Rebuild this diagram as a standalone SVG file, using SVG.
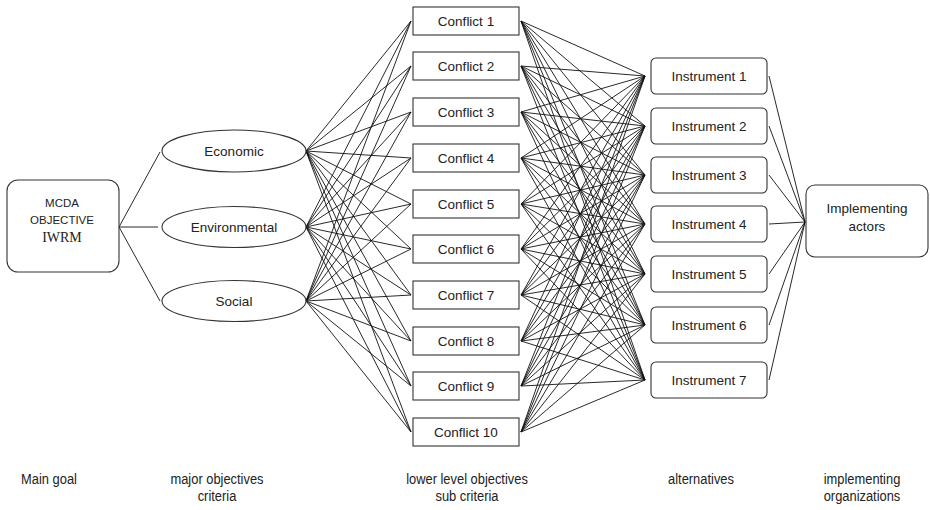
<svg xmlns="http://www.w3.org/2000/svg" width="930" height="510" viewBox="0 0 930 510">
<style>
.bg{fill:#fff}
.node{fill:#fff;stroke:#333;stroke-width:1.1}
.t{font-family:"Liberation Sans",Arial,sans-serif;font-size:13.5px;fill:#222;text-anchor:middle}
.ts{font-family:"Liberation Sans",Arial,sans-serif;font-size:11.5px;fill:#222;text-anchor:middle}
.tr{font-family:"Liberation Serif","Times New Roman",serif;font-size:14px;fill:#222;text-anchor:middle}
.lab{font-family:"Liberation Sans",Arial,sans-serif;font-size:15px;fill:#222;text-anchor:middle}
#connectors line{stroke:#111;stroke-width:0.9}
</style>
<rect class="bg" x="0" y="0" width="930" height="510"/>
<g id="connectors">
<line x1="119" y1="227" x2="160" y2="152"/>
<line x1="119" y1="227" x2="158" y2="227"/>
<line x1="119" y1="227" x2="160" y2="301"/>
<line x1="306" y1="151" x2="411" y2="21"/><line x1="306" y1="151" x2="411" y2="66"/><line x1="306" y1="151" x2="411" y2="112"/><line x1="306" y1="151" x2="411" y2="158"/><line x1="306" y1="151" x2="411" y2="204"/><line x1="306" y1="151" x2="411" y2="249"/><line x1="306" y1="151" x2="411" y2="295"/><line x1="306" y1="151" x2="411" y2="341"/><line x1="306" y1="151" x2="411" y2="386"/><line x1="306" y1="151" x2="411" y2="432"/>
<line x1="306" y1="227" x2="411" y2="21"/><line x1="306" y1="227" x2="411" y2="66"/><line x1="306" y1="227" x2="411" y2="112"/><line x1="306" y1="227" x2="411" y2="158"/><line x1="306" y1="227" x2="411" y2="204"/><line x1="306" y1="227" x2="411" y2="249"/><line x1="306" y1="227" x2="411" y2="295"/><line x1="306" y1="227" x2="411" y2="341"/><line x1="306" y1="227" x2="411" y2="386"/><line x1="306" y1="227" x2="411" y2="432"/>
<line x1="306" y1="301" x2="411" y2="21"/><line x1="306" y1="301" x2="411" y2="66"/><line x1="306" y1="301" x2="411" y2="112"/><line x1="306" y1="301" x2="411" y2="158"/><line x1="306" y1="301" x2="411" y2="204"/><line x1="306" y1="301" x2="411" y2="249"/><line x1="306" y1="301" x2="411" y2="295"/><line x1="306" y1="301" x2="411" y2="341"/><line x1="306" y1="301" x2="411" y2="386"/><line x1="306" y1="301" x2="411" y2="432"/>
<line x1="521" y1="21" x2="645" y2="76"/><line x1="521" y1="21" x2="645" y2="126"/><line x1="521" y1="21" x2="645" y2="175"/><line x1="521" y1="21" x2="645" y2="224"/><line x1="521" y1="21" x2="645" y2="274"/><line x1="521" y1="21" x2="645" y2="325"/><line x1="521" y1="21" x2="645" y2="380"/>
<line x1="521" y1="66" x2="645" y2="76"/><line x1="521" y1="66" x2="645" y2="126"/><line x1="521" y1="66" x2="645" y2="175"/><line x1="521" y1="66" x2="645" y2="224"/><line x1="521" y1="66" x2="645" y2="274"/><line x1="521" y1="66" x2="645" y2="325"/><line x1="521" y1="66" x2="645" y2="380"/>
<line x1="521" y1="112" x2="645" y2="76"/><line x1="521" y1="112" x2="645" y2="126"/><line x1="521" y1="112" x2="645" y2="175"/><line x1="521" y1="112" x2="645" y2="224"/><line x1="521" y1="112" x2="645" y2="274"/><line x1="521" y1="112" x2="645" y2="325"/><line x1="521" y1="112" x2="645" y2="380"/>
<line x1="521" y1="158" x2="645" y2="76"/><line x1="521" y1="158" x2="645" y2="126"/><line x1="521" y1="158" x2="645" y2="175"/><line x1="521" y1="158" x2="645" y2="224"/><line x1="521" y1="158" x2="645" y2="274"/><line x1="521" y1="158" x2="645" y2="325"/><line x1="521" y1="158" x2="645" y2="380"/>
<line x1="521" y1="204" x2="645" y2="76"/><line x1="521" y1="204" x2="645" y2="126"/><line x1="521" y1="204" x2="645" y2="175"/><line x1="521" y1="204" x2="645" y2="224"/><line x1="521" y1="204" x2="645" y2="274"/><line x1="521" y1="204" x2="645" y2="325"/><line x1="521" y1="204" x2="645" y2="380"/>
<line x1="521" y1="249" x2="645" y2="76"/><line x1="521" y1="249" x2="645" y2="126"/><line x1="521" y1="249" x2="645" y2="175"/><line x1="521" y1="249" x2="645" y2="224"/><line x1="521" y1="249" x2="645" y2="274"/><line x1="521" y1="249" x2="645" y2="325"/><line x1="521" y1="249" x2="645" y2="380"/>
<line x1="521" y1="295" x2="645" y2="76"/><line x1="521" y1="295" x2="645" y2="126"/><line x1="521" y1="295" x2="645" y2="175"/><line x1="521" y1="295" x2="645" y2="224"/><line x1="521" y1="295" x2="645" y2="274"/><line x1="521" y1="295" x2="645" y2="325"/><line x1="521" y1="295" x2="645" y2="380"/>
<line x1="521" y1="341" x2="645" y2="76"/><line x1="521" y1="341" x2="645" y2="126"/><line x1="521" y1="341" x2="645" y2="175"/><line x1="521" y1="341" x2="645" y2="224"/><line x1="521" y1="341" x2="645" y2="274"/><line x1="521" y1="341" x2="645" y2="325"/><line x1="521" y1="341" x2="645" y2="380"/>
<line x1="521" y1="386" x2="645" y2="76"/><line x1="521" y1="386" x2="645" y2="126"/><line x1="521" y1="386" x2="645" y2="175"/><line x1="521" y1="386" x2="645" y2="224"/><line x1="521" y1="386" x2="645" y2="274"/><line x1="521" y1="386" x2="645" y2="325"/><line x1="521" y1="386" x2="645" y2="380"/>
<line x1="521" y1="432" x2="645" y2="76"/><line x1="521" y1="432" x2="645" y2="126"/><line x1="521" y1="432" x2="645" y2="175"/><line x1="521" y1="432" x2="645" y2="224"/><line x1="521" y1="432" x2="645" y2="274"/><line x1="521" y1="432" x2="645" y2="325"/><line x1="521" y1="432" x2="645" y2="380"/>
<line x1="769" y1="76" x2="805" y2="222"/><line x1="769" y1="126" x2="805" y2="222"/><line x1="769" y1="175" x2="805" y2="222"/><line x1="769" y1="224" x2="805" y2="222"/><line x1="769" y1="274" x2="805" y2="222"/><line x1="769" y1="325" x2="805" y2="222"/><line x1="769" y1="380" x2="805" y2="222"/>
</g>
<g id="main-goal">
<rect class="node" x="7" y="180" width="112" height="92" rx="11"/>
<text class="ts" x="62" y="207">MCDA</text>
<text class="ts" x="62" y="224">OBJECTIVE</text>
<text class="tr" x="62" y="242">IWRM</text>
</g>
<g id="economic"><ellipse class="node" cx="234" cy="151" rx="72" ry="21"/><text class="t" x="234" y="156">Economic</text></g>
<g id="environmental"><ellipse class="node" cx="234" cy="227" rx="72" ry="20.5"/><text class="t" x="234" y="232">Environmental</text></g>
<g id="social"><ellipse class="node" cx="234" cy="301" rx="72" ry="20.5"/><text class="t" x="234" y="306">Social</text></g>
<g id="conflict-1"><rect class="node" x="413" y="7" width="106" height="28"/><text class="t" x="466" y="26">Conflict 1</text></g>
<g id="conflict-2"><rect class="node" x="413" y="52" width="106" height="28"/><text class="t" x="466" y="71">Conflict 2</text></g>
<g id="conflict-3"><rect class="node" x="413" y="98" width="106" height="28"/><text class="t" x="466" y="117">Conflict 3</text></g>
<g id="conflict-4"><rect class="node" x="413" y="144" width="106" height="28"/><text class="t" x="466" y="163">Conflict 4</text></g>
<g id="conflict-5"><rect class="node" x="413" y="190" width="106" height="28"/><text class="t" x="466" y="209">Conflict 5</text></g>
<g id="conflict-6"><rect class="node" x="413" y="235" width="106" height="28"/><text class="t" x="466" y="254">Conflict 6</text></g>
<g id="conflict-7"><rect class="node" x="413" y="281" width="106" height="28"/><text class="t" x="466" y="300">Conflict 7</text></g>
<g id="conflict-8"><rect class="node" x="413" y="327" width="106" height="28"/><text class="t" x="466" y="346">Conflict 8</text></g>
<g id="conflict-9"><rect class="node" x="413" y="372" width="106" height="28"/><text class="t" x="466" y="391">Conflict 9</text></g>
<g id="conflict-10"><rect class="node" x="413" y="418" width="106" height="28"/><text class="t" x="466" y="437">Conflict 10</text></g>
<g id="instrument-1"><rect class="node" x="651" y="58" width="116" height="36" rx="5"/><text class="t" x="709" y="81">Instrument 1</text></g>
<g id="instrument-2"><rect class="node" x="651" y="108" width="116" height="36" rx="5"/><text class="t" x="709" y="131">Instrument 2</text></g>
<g id="instrument-3"><rect class="node" x="651" y="157" width="116" height="36" rx="5"/><text class="t" x="709" y="180">Instrument 3</text></g>
<g id="instrument-4"><rect class="node" x="651" y="206" width="116" height="36" rx="5"/><text class="t" x="709" y="229">Instrument 4</text></g>
<g id="instrument-5"><rect class="node" x="651" y="256" width="116" height="36" rx="5"/><text class="t" x="709" y="279">Instrument 5</text></g>
<g id="instrument-6"><rect class="node" x="651" y="307" width="116" height="36" rx="5"/><text class="t" x="709" y="330">Instrument 6</text></g>
<g id="instrument-7"><rect class="node" x="651" y="362" width="116" height="36" rx="5"/><text class="t" x="709" y="385">Instrument 7</text></g>
<g id="implementing-actors"><rect class="node" x="806" y="185" width="122" height="72" rx="9"/><text class="t" x="867" y="213">Implementing</text><text class="t" x="867" y="231">actors</text></g>
<g id="labels">
<g transform="translate(49,484) scale(0.86,1)"><text class="lab" x="0" y="0">Main goal</text></g>
<g transform="translate(217,484) scale(0.86,1)"><text class="lab" x="0" y="0">major objectives</text><text class="lab" x="0" y="17">criteria</text></g>
<g transform="translate(467,484) scale(0.86,1)"><text class="lab" x="0" y="0">lower level objectives</text><text class="lab" x="0" y="17">sub criteria</text></g>
<g transform="translate(701,484) scale(0.86,1)"><text class="lab" x="0" y="0">alternatives</text></g>
<g transform="translate(862,484) scale(0.86,1)"><text class="lab" x="0" y="0">implementing</text><text class="lab" x="0" y="17">organizations</text></g>
</g>
</svg>
